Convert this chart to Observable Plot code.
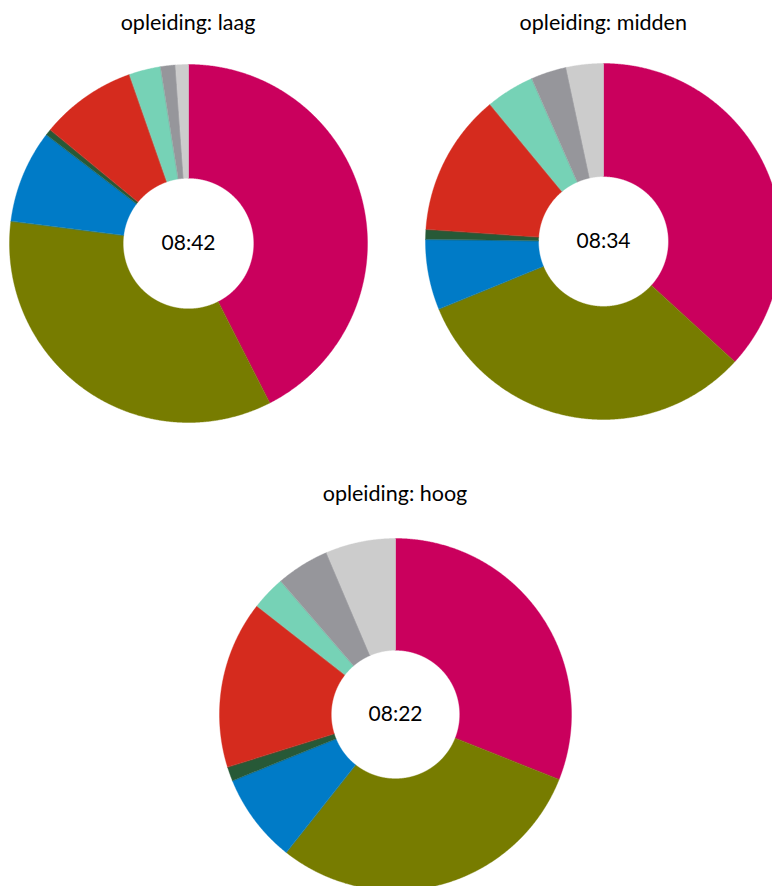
<!DOCTYPE html>
<html>
<head>
<meta charset="utf-8">
<script src="https://cdn.jsdelivr.net/npm/d3@7"></script>
<script src="https://cdn.jsdelivr.net/npm/@observablehq/plot@0.6"></script>
<style>
  html, body { margin: 0; padding: 0; background: #fff; overflow: hidden; }
  #page { position: relative; width: 772px; height: 886px; overflow: hidden; font-family: Lato, sans-serif; }
  .panel { position: absolute; width: 376px; height: 376px; }
  .panel svg { max-width: none !important; display: block; }
  .title { position: absolute; width: 400px; text-align: center; font-size: 21.5px; line-height: 22px; color: #000; white-space: nowrap; }
</style>
</head>
<body>
<div id="page"></div>
<script>
// categories (not labelled in the picture)
const categories = ["categorie 1", "categorie 2", "categorie 3", "categorie 4", "categorie 5", "categorie 6", "categorie 7", "categorie 8"];
const colors = ["#CA005D", "#777C00", "#007BC7", "#275937", "#D52B1E", "#76D2B6", "#96969B", "#CCCCCC"];
// shares (%) per education level, clockwise from 12 o'clock
const laag   = [42.5, 34.5, 8.4, 0.55, 8.7, 2.85, 1.35, 1.15];
const midden = [36.8, 32.0, 6.4, 0.9, 12.9, 4.4, 3.25, 3.35];
const hoog   = [31.0, 29.6, 8.2, 1.3, 15.4, 3.1, 4.9, 6.4];
const titles = ["opleiding: laag", "opleiding: midden", "opleiding: hoog"];
const totals = ["08:42", "08:34", "08:22"];

const panels = [
  {values: laag,   title: titles[0], total: totals[0], cx: 188,   cy: 242.5, r: 179, ty: 11},
  {values: midden, title: titles[1], total: totals[1], cx: 603.3, cy: 241.3, r: 178, ty: 11},
  {values: hoog,   title: titles[2], total: totals[2], cx: 395,   cy: 713.5, r: 176, ty: 482}
];
const innerRatio = 0.365;
const S = 376;

function slicePoints(values) {
  const arcs = d3.pie().sort(null)(values);
  const pts = [];
  arcs.forEach((a, i) => {
    const n = Math.max(2, Math.ceil((a.endAngle - a.startAngle) / 0.005));
    for (let k = 0; k <= n; k++) {
      const t = a.startAngle + (a.endAngle - a.startAngle) * k / n;
      pts.push({cat: categories[i], x: Math.sin(t), y: Math.cos(t)});
    }
    for (let k = n; k >= 0; k--) {
      const t = a.startAngle + (a.endAngle - a.startAngle) * k / n;
      pts.push({cat: categories[i], x: innerRatio * Math.sin(t), y: innerRatio * Math.cos(t)});
    }
  });
  return pts;
}

const page = document.getElementById("page");
panels.forEach(p => {
  const t = document.createElement("div");
  t.className = "title";
  t.style.left = (p.cx - 200) + "px";
  t.style.top = p.ty + "px";
  t.textContent = p.title;
  page.appendChild(t);

  const chart = Plot.plot({
    width: S, height: S, margin: 0,
    style: {fontFamily: "Lato, sans-serif", background: "transparent", overflow: "visible", maxWidth: "none"},
    x: {domain: [-1, 1], range: [S / 2 - p.r, S / 2 + p.r], axis: null},
    y: {domain: [-1, 1], range: [S / 2 + p.r, S / 2 - p.r], axis: null},
    color: {domain: categories, range: colors},
    marks: [
      Plot.line(slicePoints(p.values), {x: "x", y: "y", z: "cat", fill: "cat", stroke: "cat", strokeWidth: 0.4, curve: "linear-closed"}),
      Plot.text([p.total], {text: d => d, frameAnchor: "middle", fontSize: 21, fill: "#000"})
    ]
  });
  const wrap = document.createElement("div");
  wrap.className = "panel";
  wrap.style.left = (p.cx - S / 2) + "px";
  wrap.style.top = (p.cy - S / 2) + "px";
  wrap.appendChild(chart);
  page.appendChild(wrap);
});
</script>
</body>
</html>
